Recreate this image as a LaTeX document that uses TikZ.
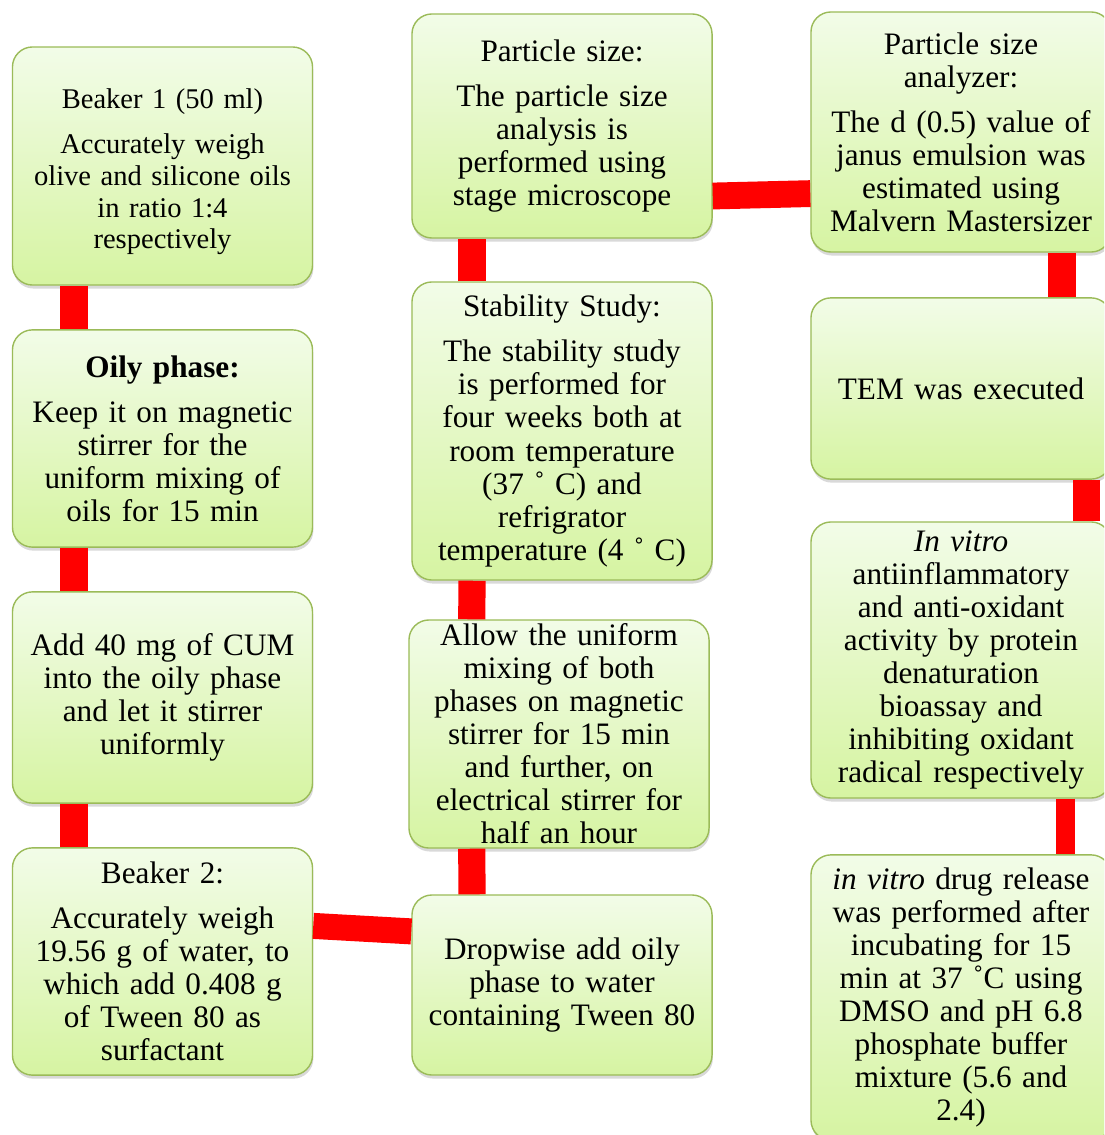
\documentclass[tikz,border=0pt]{standalone}
\usepackage{fontspec}
\setmainfont{Liberation Serif}
\usepackage{xcolor}
\usepackage{tikz}
\usetikzlibrary{shadows}
\definecolor{stepedge}{HTML}{9BBB59}
\definecolor{steptop}{HTML}{F2FCE8}
\definecolor{stepbottom}{HTML}{D6F4A2}
\definecolor{linkred}{HTML}{FF0000}

\begin{document}
\begin{tikzpicture}[
  x=0.025cm, y=-0.025cm,
  box/.style={draw=stepedge, line width=1pt, top color=steptop, bottom color=stepbottom, rounded corners=0.5cm, minimum width=7.5cm, text width=7.4cm, inner sep=0pt, align=center, drop shadow={shadow xshift=0.6pt, shadow yshift=-2.5pt, opacity=0.3}},
  link/.style={draw=linkred, line width=0.7cm},
  every node/.style={font=\fontsize{22.2}{23.5}\selectfont}
]
\useasboundingbox (0,0) rectangle (1104,1135);
\clip (0,0) rectangle (1104,1135);

% Oily phase and water phase
\node[box, minimum height=5.95cm, font=\fontsize{20.3}{22.5}\selectfont] (beaker1) at (162.5, 166) {\rule{0pt}{22pt}Beaker 1 (50 ml)\\[10pt]Accurately weigh\\olive and silicone oils\\in ratio 1:4\\respectively};
\node[box, minimum height=5.43cm] (oily) at (162.5, 438.5) {\textbf{Oily phase:}\\[8.5pt]Keep it on magnetic\\stirrer for the\\uniform mixing of\\oils for 15 min};
\node[box, minimum height=5.28cm] (cum) at (162.5, 697.5) {Add 40 mg of CUM\\into the oily phase\\and let it stirrer\\uniformly};
\node[box, minimum height=5.68cm] (beaker2) at (162.5, 961.5) {Beaker 2:\\[8.5pt]Accurately weigh\\19.56 g of water, to\\which add 0.408 g\\of Tween 80 as\\surfactant};

% Emulsion and tests
\node[box, minimum height=4.5cm] (drop) at (562, 985) {Dropwise add oily\\phase to water\\containing Tween 80};
\node[box, minimum height=5.7cm] (allow) at (559, 734) {Allow the uniform\\mixing of both\\phases on magnetic\\stirrer for 15 min\\and further, on\\electrical stirrer for\\half an hour};
\node[box, minimum height=7.45cm] (stab) at (562, 431) {Stability Study:\\[8.5pt]The stability study\\is performed for\\four weeks both at\\room temperature\\(37 ˚ C) and\\refrigrator\\temperature (4 ˚ C)};
\node[box, minimum height=5.6cm] (psize) at (562, 126) {Particle size:\\[8.5pt]The particle size\\analysis is\\performed using\\stage microscope};

% Characterization
\node[box, minimum height=6cm] (analyzer) at (961, 132) {Particle size\\analyzer:\\[8.5pt]The d (0.5) value of\\janus emulsion was\\estimated using\\Malvern Mastersizer};
\node[box, minimum height=4.53cm] (tem) at (961, 388.5) {TEM was executed};
\node[box, minimum height=6.9cm] (invitro) at (961, 660) {\textit{In vitro}\\antiinflammatory\\and anti-oxidant\\activity by protein\\denaturation\\bioassay and\\inhibiting oxidant\\radical respectively};
\node[box, minimum height=7.13cm] (release) at (961, 997.5) {\textit{in vitro} drug release\\was performed after\\incubating for 15\\min at 37 ˚C using\\DMSO and pH 6.8\\phosphate buffer\\mixture (5.6 and\\2.4)};

% Links
\draw[link] ([xshift=-2.21cm]beaker1.south) -- ([xshift=-2.21cm]oily.north);
\draw[link] ([xshift=-2.21cm]oily.south) -- ([xshift=-2.21cm]cum.north);
\draw[link] ([xshift=-2.21cm]cum.south) -- ([xshift=-2.21cm]beaker2.north);
\draw[link, line width=0.65cm] ([yshift=0.89cm]beaker2.east) -- ([yshift=1.34cm]drop.west);
\draw[link, line width=0.68cm] ([xshift=-2.25cm]drop.north) -- ([xshift=-2.18cm]allow.south);
\draw[link, line width=0.68cm] ([xshift=-2.18cm]allow.north) -- ([xshift=-2.25cm]stab.south);
\draw[link] ([xshift=-2.25cm]stab.north) -- ([xshift=-2.25cm]psize.south);
\draw[link, line width=0.67cm] ([yshift=-1.75cm]psize.east) -- ([yshift=-1.54cm]analyzer.west);
\draw[link] ([xshift=2.52cm]analyzer.south) -- ([xshift=2.52cm]tem.north);
\draw[link, line width=0.675cm] ([xshift=3.14cm]tem.south) -- ([xshift=3.14cm]invitro.north);
\draw[link, line width=0.48cm] ([xshift=2.62cm]invitro.south) -- ([xshift=2.62cm]release.north);

\end{tikzpicture}
\end{document}
